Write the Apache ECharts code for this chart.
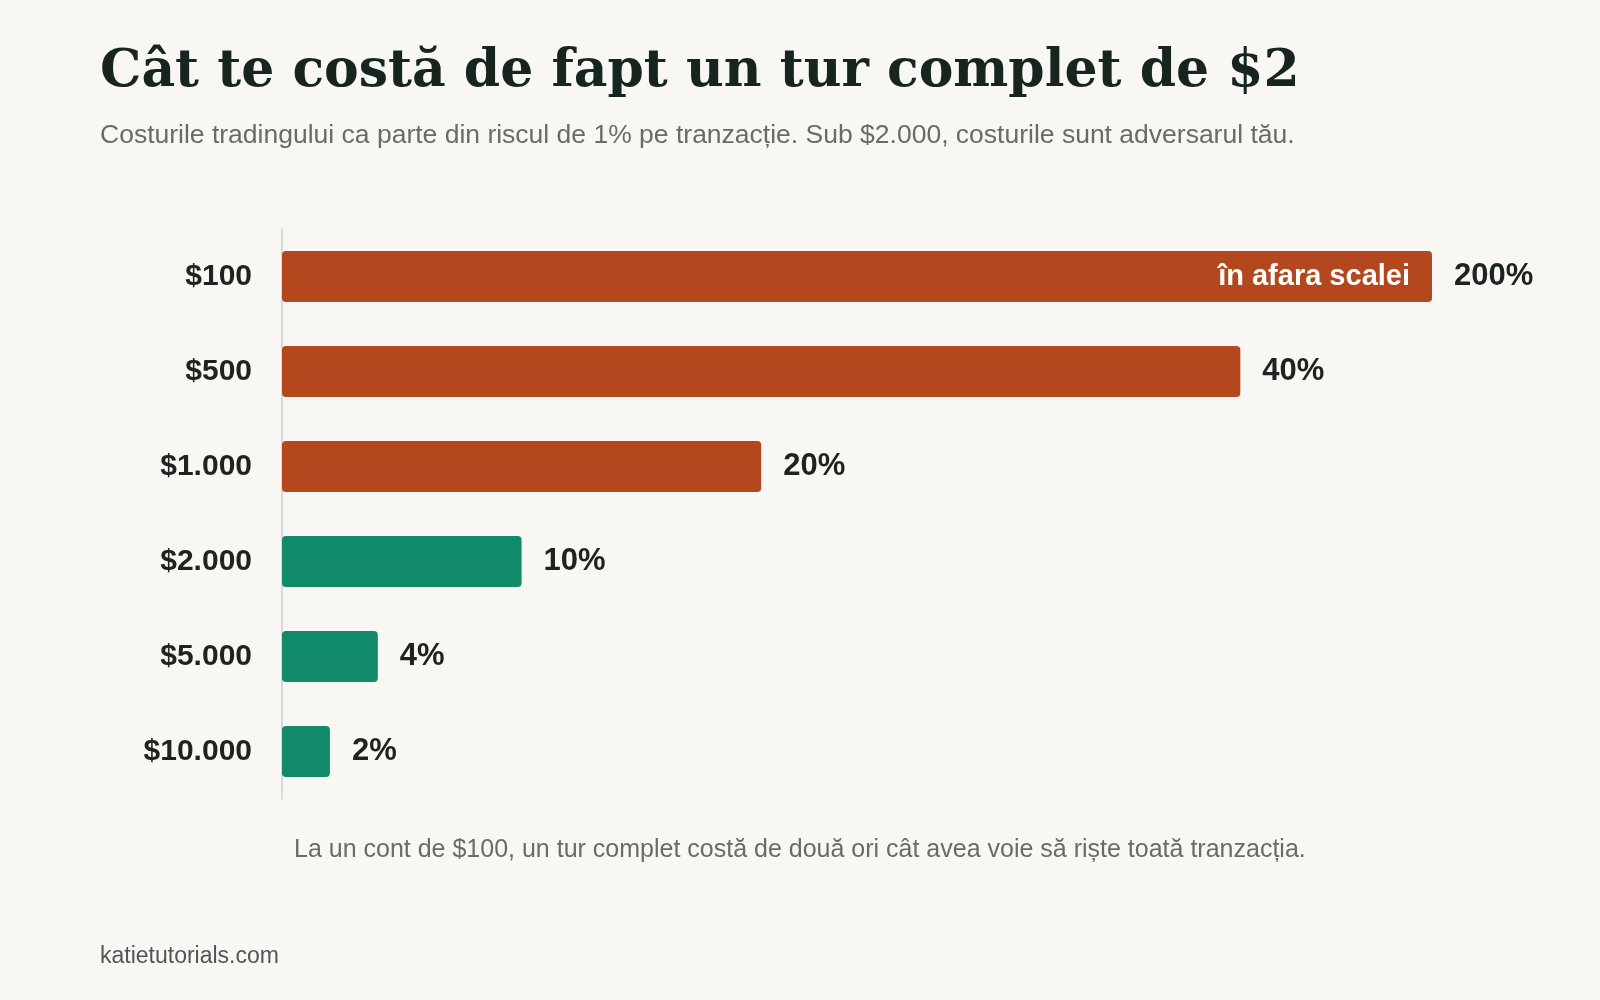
<!DOCTYPE html>
<html><head><meta charset="utf-8">
<script src="https://cdn.jsdelivr.net/npm/echarts@6/dist/echarts.min.js"></script>
<style>html,body{margin:0;background:#f8f7f3}#c{width:1600px;height:1000px}</style>
</head><body><div id="c"></div>
<script>
const categories = ['$100','$500','$1.000','$2.000','$5.000','$10.000'];
const costPct = [200, 40, 20, 10, 4, 2];
const valueLabels = ['200%','40%','20%','10%','4%','2%'];
const scaleMax = 48;
const orange = '#b3481e', green = '#118a6a';
const chart = echarts.init(document.getElementById('c'));
const data = costPct.map((v,i)=>({
  value: Math.min(v, scaleMax),
  itemStyle:{color: v >= 20 ? orange : green, borderRadius:4},
  label:{formatter: valueLabels[i]}
}));
chart.setOption({
  backgroundColor:'#f8f7f3',
  animation:false,
  grid:{left:282,top:229,width:1150,height:570},
  xAxis:{type:'value',min:0,max:scaleMax,show:false},
  yAxis:{type:'category',inverse:true,data:categories,
    axisLine:{show:true,lineStyle:{color:'#cfcfcf',width:1.5}},
    axisTick:{show:false},
    axisLabel:{margin:30,fontFamily:'Liberation Sans',fontWeight:'bold',fontSize:30,color:'#1d2420'}},
  series:[{type:'bar',data,barWidth:51,
    label:{show:true,position:'right',distance:22,fontFamily:'Liberation Sans',fontWeight:'bold',fontSize:31,color:'#1d2420'}},
    {type:'bar',barGap:'-100%',barWidth:51,silent:true,
     data: costPct.map(v=> v > scaleMax ? {value:Math.min(v,scaleMax),label:{show:true,formatter:'în afara scalei'}} : {value:0,label:{show:false}}),
     itemStyle:{color:'transparent'},
     label:{position:'insideRight',distance:22,fontFamily:'Liberation Sans',fontWeight:'bold',fontSize:29,color:'#ffffff'}}
  ],
  graphic:[
    {type:'text',left:100,top:46,style:{text:'Cât te costă de fapt un tur complet de $2',font:'bold 52px "DejaVu Serif"',fill:'#17251f'}},
    {type:'text',left:100,top:122,style:{text:'Costurile tradingului ca parte din riscul de 1% pe tranzacție. Sub $2.000, costurile sunt adversarul tău.',font:'26.5px "Liberation Sans"',fill:'#6b6b66'}},
    {type:'text',left:294,top:838,style:{text:'La un cont de $100, un tur complet costă de două ori cât avea voie să riște toată tranzacția.',font:'25px "Liberation Sans"',fill:'#6b6b66'}},
    {type:'text',left:100,top:945,style:{text:'katietutorials.com',font:'23px "Liberation Sans"',fill:'#555'}}
  ]
});
</script></body></html>
